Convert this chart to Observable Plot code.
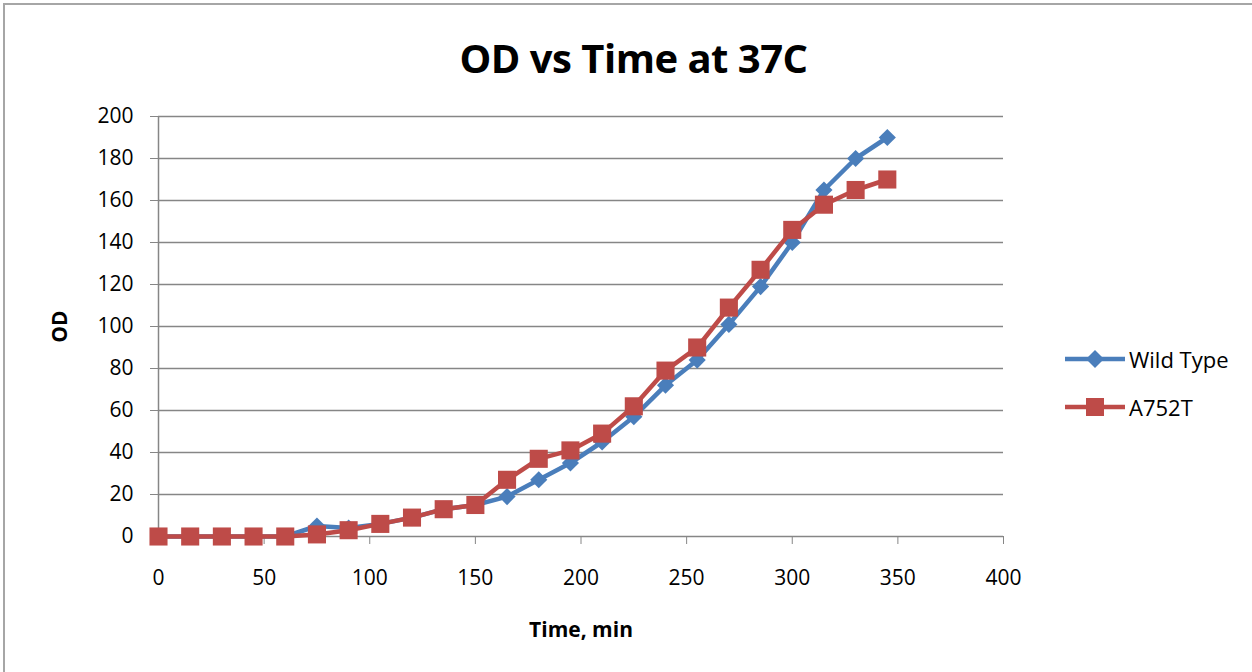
<!DOCTYPE html>
<html>
<head>
<meta charset="utf-8">
<script src="https://cdn.jsdelivr.net/npm/d3@7"></script>
<script src="https://cdn.jsdelivr.net/npm/@observablehq/plot@0.6"></script>
<style>
  html, body { margin: 0; padding: 0; background: #fff; }
  #frame {
    position: absolute; left: 3px; top: 3px; width: 1249px; height: 669px;
    border-top: 2px solid #a6a6a6; border-left: 2px solid #a6a6a6;
    box-sizing: border-box; background: #fff;
    font-family: "Open Sans", "Liberation Sans", sans-serif;
  }
  #title {
    height: 95px; box-sizing: border-box; padding-top: 29px;
    text-align: center; font-weight: bold; font-size: 40px; line-height: 1.2;
    color: #000; padding-left: 10px; letter-spacing: -0.5px;
  }
  #chart svg { display: block; }
  g[aria-label="x-axis label"] text, g[aria-label="y-axis label"] text { font-weight: bold; }
  #legend { position: absolute; left: 1058px; top: 330px; font-size: 22px; color: #000; }
  .item { display: flex; align-items: center; height: 48px; }
  .item svg { margin-right: 2px; }
</style>
</head>
<body>
<div id="frame">
  <div id="title">OD vs Time at 37C</div>
  <div id="chart"></div>
  <div id="legend"></div>
</div>
<script>
const seriesNames = ["Wild Type", "A752T"];
const seriesColors = ["#4a7ebb", "#be4b48"];
const time = [0, 15, 30, 45, 60, 75, 90, 105, 120, 135, 150, 165, 180, 195, 210, 225, 240, 255, 270, 285, 300, 315, 330, 345];
const wildType = [0, 0, 0, 0, 0, 5, 4, 6, 9, 13, 15, 19, 27, 35, 45, 57, 72, 84, 101, 119, 140, 165, 180, 190];
const a752t = [0, 0, 0, 0, 0, 1, 3, 6, 9, 13, 15, 27, 37, 41, 49, 62, 79, 90, 109, 127, 146, 158, 165, 170];
const xTicks = [0, 50, 100, 150, 200, 250, 300, 350, 400];
const yTicks = [0, 20, 40, 60, 80, 100, 120, 140, 160, 180, 200];

const wt = time.map((t, i) => ({time: t, od: wildType[i]}));
const mt = time.map((t, i) => ({time: t, od: a752t[i]}));
const gray = "#868686";

const chart = Plot.plot({
  width: 1247,
  height: 572,
  marginLeft: 153,
  marginRight: 249,
  marginTop: 16,
  marginBottom: 136,
  style: {fontFamily: "'Open Sans', 'Liberation Sans', sans-serif", fontSize: "21px", color: "#000", background: "#fff"},
  x: {domain: [0, 400]},
  y: {domain: [0, 200]},
  marks: [
    Plot.gridY(yTicks.filter(d => d > 0), {stroke: gray, strokeOpacity: 1, strokeWidth: 1.5}),
    Plot.ruleY([0], {stroke: gray, strokeWidth: 1.5}),
    Plot.ruleX([0], {stroke: gray, strokeWidth: 1.5}),
    Plot.axisY({ticks: yTicks, tickSize: 8, tickPadding: 17, stroke: gray, fill: "#000",
      label: "OD", labelArrow: "none", labelAnchor: "center", labelOffset: 106}),
    Plot.axisX({ticks: xTicks, tickSize: 8, tickPadding: 26, stroke: gray, fill: "#000",
      label: "Time, min", labelArrow: "none", labelAnchor: "center", labelOffset: 100}),
    Plot.line(wt, {x: "time", y: "od", stroke: seriesColors[0], strokeWidth: 4.5}),
    Plot.dot(wt, {x: "time", y: "od", symbol: "diamond2", r: 7.7, fill: seriesColors[0], stroke: "none"}),
    Plot.line(mt, {x: "time", y: "od", stroke: seriesColors[1], strokeWidth: 4.5}),
    Plot.dot(mt, {x: "time", y: "od", symbol: "square", r: 10.2, fill: seriesColors[1], stroke: "none"})
  ]
});
document.getElementById("chart").appendChild(chart);

const legend = document.getElementById("legend");
seriesNames.forEach((name, i) => {
  const item = document.createElement("div");
  item.className = "item";
  const marker = i === 0
    ? `<polygon points="32,3 41,12 32,21 23,12" fill="${seriesColors[i]}"/>`
    : `<rect x="23" y="3" width="18" height="18" fill="${seriesColors[i]}"/>`;
  item.innerHTML = `<svg width="64" height="24"><line x1="2" x2="62" y1="12" y2="12" stroke="${seriesColors[i]}" stroke-width="4.5"/>${marker}</svg><span>${name}</span>`;
  legend.appendChild(item);
});
</script>
</body>
</html>
